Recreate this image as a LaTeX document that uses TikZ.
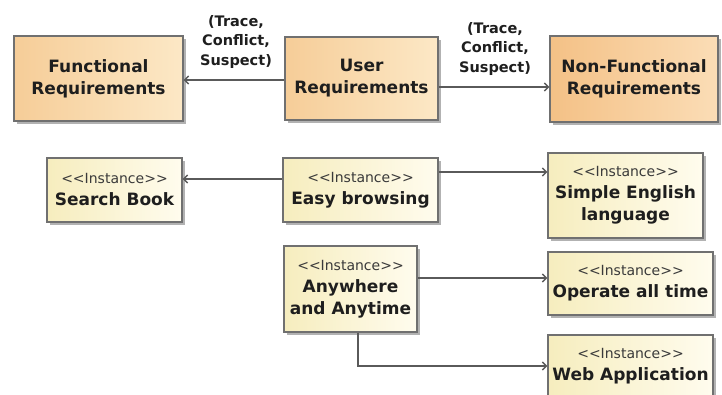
\documentclass[tikz,border=0pt]{standalone}
\usepackage{fontspec}
\setmainfont{DejaVu Sans}
\usetikzlibrary{arrows.meta,shadows}
\definecolor{bordc}{HTML}{707070}
\definecolor{linec}{HTML}{5A5A5A}
\definecolor{txt}{HTML}{1E1E1E}
\definecolor{insttxt}{HTML}{3A3A3A}
\definecolor{peachL}{HTML}{F6CD98}
\definecolor{peachR}{HTML}{FCE8C6}
\definecolor{orangeL}{HTML}{F4C186}
\definecolor{orangeR}{HTML}{FBDDB6}
\definecolor{instL}{HTML}{F6EDBE}
\definecolor{instR}{HTML}{FFFCEE}
\newcommand{\instline}{{\fontsize{14}{22}\selectfont\mdseries\color{insttxt}<\kern0pt<Instance>\kern0pt>}}
\begin{document}
\begin{tikzpicture}[x=1pt,y=-1pt,
  box/.style={draw=bordc, line width=1.1pt, inner sep=0pt, align=center, text=txt,
    drop shadow={shadow xshift=2.5pt,shadow yshift=-2.5pt,fill=black!55,opacity=.55},
    font=\fontsize{17}{22}\selectfont\bfseries},
  reqbox/.style={box, left color=peachL, right color=peachR},
  nfbox/.style={box, left color=orangeL, right color=orangeR},
  instbox/.style={box, left color=instL, right color=instR},
  conn/.style={draw=linec, line width=1.5pt, -{Straight Barb[length=4pt,width=8pt]}},
  lbl/.style={align=center, inner sep=0pt, text=txt, font=\fontsize{14.5}{19.5}\selectfont\bfseries}]
\useasboundingbox[fill=white] (0,0) rectangle (722,394);

% top row
\node[reqbox, minimum width=169pt, minimum height=85pt] (F) at (98.5,78.5) {Functional\\Requirements};
\node[reqbox, minimum width=153pt, minimum height=83pt] (U) at (361.5,78.5) {User\\Requirements};
\node[nfbox, minimum width=168pt, minimum height=86pt] (N) at (634,79) {Non-Functional\\Requirements};

% instance boxes
\node[instbox, minimum width=135pt, minimum height=64pt] (SB) at (114.5,190) {\instline\\Search Book};
\node[instbox, minimum width=155pt, minimum height=64pt] (EB) at (360.5,190) {\instline\\Easy browsing};
\node[instbox, minimum width=155pt, minimum height=85pt] (SE) at (625.5,195.5) {\instline\\Simple English\\language};
\node[instbox, minimum width=133pt, minimum height=86pt] (AA) at (350.5,289) {\instline\\Anywhere\\and Anytime};
\node[instbox, minimum width=165pt, minimum height=63pt] (OP) at (630.5,283.5) {\instline\\Operate all time};
\node[instbox, minimum width=165pt, minimum height=63pt] (WA) at (630.5,366.5) {\instline\\Web Application};

% labels
\node[lbl] (L1) at (236,42) {(Trace,\\Conflict,\\Suspect)};
\node[lbl] (L2) at (495,49) {(Trace,\\Conflict,\\Suspect)};

% connectors
\draw[conn] (U.west |- 0,80) -- (F.east |- 0,80);
\draw[conn] (U.east |- 0,87) -- (N.west |- 0,87);
\draw[conn] (EB.west |- 0,179) -- (SB.east |- 0,179);
\draw[conn] (EB.east |- 0,172) -- (SE.west |- 0,172);
\draw[conn] (AA.east |- 0,278) -- (OP.west |- 0,278);
\draw[conn] (AA.south -| 358,0) |- (WA.west |- 0,366);
\end{tikzpicture}
\end{document}
